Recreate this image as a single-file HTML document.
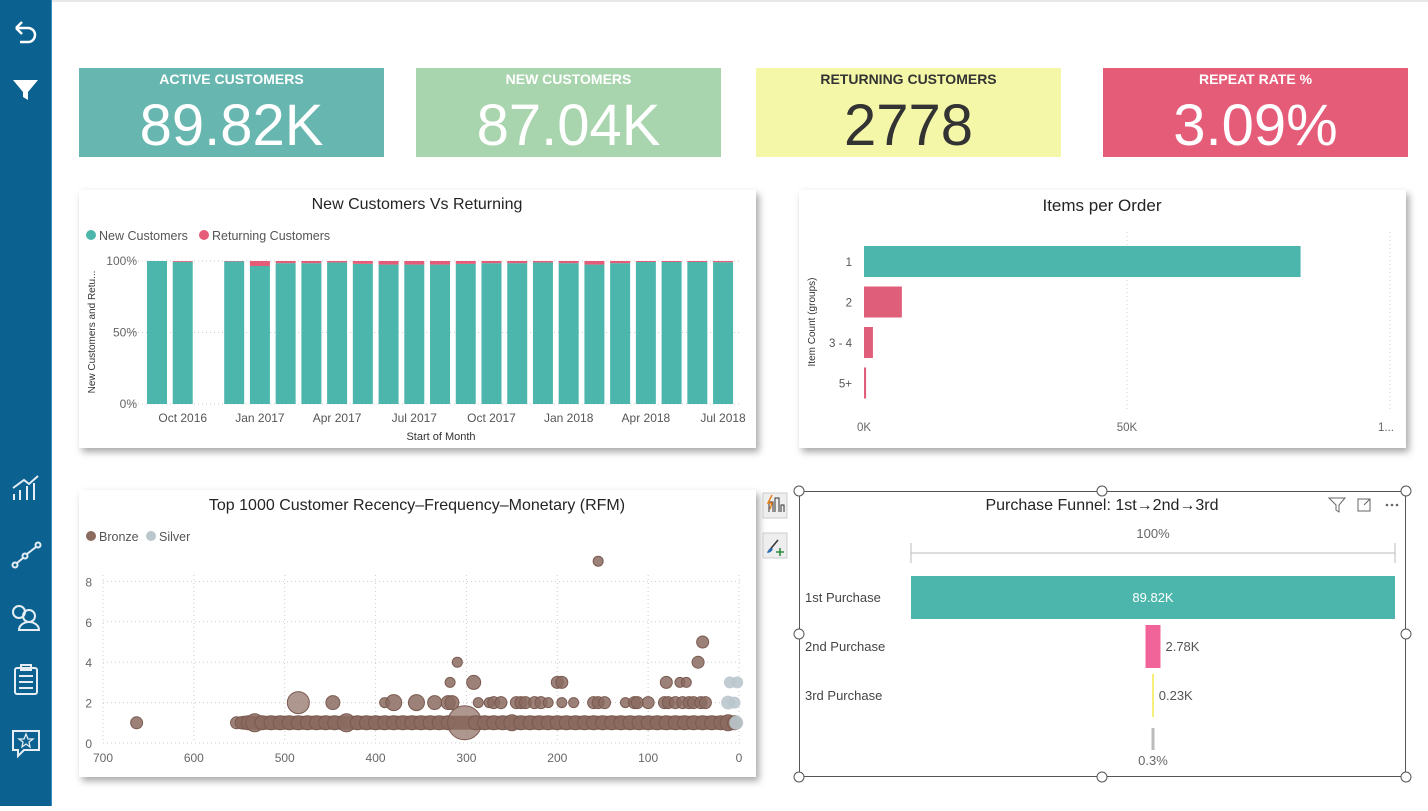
<!DOCTYPE html>
<html><head><meta charset="utf-8">
<style>
body{margin:0;width:1428px;height:806px;overflow:hidden;background:#fff;font-family:"Liberation Sans",sans-serif;position:relative}
.side{position:absolute;left:0;top:0;width:51px;height:806px;background:#0b6190;border-right:1px solid #3d8cc4}
.kpi{position:absolute;top:68px;height:89px;text-align:center}
.kpi .t{font-weight:bold;font-size:14px;margin-top:3px}
.kpi .v{font-size:58px;line-height:60px;margin-top:9px}
.card{position:absolute;background:#fff;box-shadow:3px 4px 7px rgba(0,0,0,0.35)}
svg text{font-family:"Liberation Sans",sans-serif}
</style></head><body>
<div class="side">
<svg width="51" height="806">
 <g fill="none" stroke="#fff" stroke-width="2.5"><path d="M16 28 L22 22 M16 28 L22 34 M16 28 H28 a7 7 0 0 1 0 14 H20"/></g>
 <path d="M13 80 H38 L28 92 V100 L23 97 V92 Z" fill="#fff"/>
 <g fill="none" stroke="#e6eef4" stroke-width="2">
  <path d="M14 500 V494 M20 500 V490 M27 500 V486 M34 500 V483 M13 488 L24 480 L29 484 L38 476"/>
  <circle cx="15" cy="565" r="2.5"/><circle cx="25" cy="556" r="2.5"/><circle cx="38" cy="545" r="2.5"/><path d="M17 563 L23 558 M27 554 L36 547"/>
  <circle cx="19" cy="612" r="6"/><circle cx="29" cy="616" r="6"/><path d="M19 630 a10 8 0 0 1 20 0 Z"/>
  <rect x="15" y="668" width="22" height="26" rx="2"/><rect x="21" y="665" width="10" height="5"/><path d="M19 676 H33 M19 682 H33 M19 688 H33"/>
  <path d="M13 731 H39 V750 H24 L18 756 V750 H13 Z"/><path d="M26 734 L28 739 H33 L29 742 L30 747 L26 744 L22 747 L23 742 L19 739 H24 Z" stroke-width="1.3"/>
 </g>
</svg>
</div>
<div style="position:absolute;left:52px;top:0;width:1376px;height:2px;background:#e8e8e8"></div>

<div class="kpi" style="left:79px;width:305px;background:#67b7b0;color:#fff"><div class="t">ACTIVE CUSTOMERS</div><div class="v">89.82K</div></div>
<div class="kpi" style="left:416px;width:305px;background:#a9d5ae;color:#fff"><div class="t">NEW CUSTOMERS</div><div class="v">87.04K</div></div>
<div class="kpi" style="left:756px;width:305px;background:#f5f7a8;color:#333"><div class="t">RETURNING CUSTOMERS</div><div class="v">2778</div></div>
<div class="kpi" style="left:1103px;width:305px;background:#e55c78;color:#fff"><div class="t">REPEAT RATE %</div><div class="v">3.09%</div></div>

<div class="card" style="left:79px;top:190px;width:677px;height:258px"></div>
<div class="card" style="left:799px;top:190px;width:607px;height:258px"></div>
<div class="card" style="left:79px;top:490px;width:677px;height:287px"></div>
<div style="position:absolute;left:799px;top:491px;width:607px;height:286px;border:1px solid #555;box-sizing:border-box;background:#fff"></div>

<svg id="main" width="1428" height="806" style="position:absolute;left:0;top:0">
 <text x="417" y="209" font-size="16" text-anchor="middle" fill="#252423">New Customers Vs Returning</text>
 <circle cx="91" cy="235" r="5" fill="#4db6ac"/>
 <text x="99" y="240" font-size="12.5" fill="#555">New Customers</text>
 <circle cx="204" cy="235" r="5" fill="#e55c78"/>
 <text x="212" y="240" font-size="12.5" fill="#555">Returning Customers</text>
 <text transform="translate(95,332) rotate(-90)" font-size="10" text-anchor="middle" fill="#333">New Customers and Retu...</text>
 <text x="441" y="440" font-size="11" text-anchor="middle" fill="#333">Start of Month</text>
 <g id="bars"></g>

 <text x="1102" y="211" font-size="17" text-anchor="middle" fill="#252423">Items per Order</text>
 <text transform="translate(815,322) rotate(-90)" font-size="10" text-anchor="middle" fill="#333">Item Count (groups)</text>
 <g id="items"></g>

 <text x="417" y="510" font-size="16" text-anchor="middle" fill="#252423">Top 1000 Customer Recency–Frequency–Monetary (RFM)</text>
 <circle cx="91" cy="536" r="5" fill="#8b6b60"/>
 <text x="99" y="541" font-size="12.5" fill="#555">Bronze</text>
 <circle cx="151" cy="536" r="5" fill="#b9c6cc"/>
 <text x="159" y="541" font-size="12.5" fill="#555">Silver</text>
 <g id="scatter"></g>

 <g>
  <rect x="763" y="493" width="24" height="25" fill="#eee" stroke="#ccc"/><path d="M769 512 V502 H773 V512 M775 512 V498 H779 V512 M781 512 V505 H784 V512" fill="none" stroke="#333"/><path d="M772 495 L768 503 H772 L770 509" fill="none" stroke="#e8821e" stroke-width="1.5"/>
  <rect x="763" y="533" width="24" height="25" fill="#eee" stroke="#ccc"/><path d="M768 552 L778 540" stroke="#333" stroke-width="1.5"/><path d="M767 553 q2 -6 6 -4 q-2 4 -6 4" fill="#2a6ebb"/><path d="M780 548 V556 M776 552 H784" stroke="#2e8b3c" stroke-width="1.6"/>
 </g>
 <text x="1102" y="510" font-size="16" text-anchor="middle" fill="#252423">Purchase Funnel: 1st→2nd→3rd</text>
 <g fill="none" stroke="#666">
  <path d="M1329 498 H1345 L1339 505 V512 L1336 510 V505 Z"/>
  <rect x="1358" y="499" width="12" height="12"/><path d="M1364 505 L1370 499 M1366 499 H1370 V503"/>
  <g fill="#666" stroke="none"><circle cx="1387" cy="505" r="1.3"/><circle cx="1392" cy="505" r="1.3"/><circle cx="1397" cy="505" r="1.3"/></g>
 </g>
 <g id="funnel"></g>
 <g fill="#fff" stroke="#555">
  <circle cx="799" cy="491" r="5"/><circle cx="1102" cy="491" r="5"/><circle cx="1406" cy="491" r="5"/>
  <circle cx="799" cy="634" r="5"/><circle cx="1406" cy="634" r="5"/>
  <circle cx="799" cy="777" r="5"/><circle cx="1102" cy="777" r="5"/><circle cx="1406" cy="777" r="5"/>
 </g>
</svg>
<script>
const NS='http://www.w3.org/2000/svg';
function mk(p,t,a){const e=document.createElementNS(NS,t);for(const k in a)e.setAttribute(k,a[k]);p.appendChild(e);return e;}
// ---- stacked 100% bar chart data ----
const months=['Sep 2016','Oct 2016','Nov 2016','Dec 2016','Jan 2017','Feb 2017','Mar 2017','Apr 2017','May 2017','Jun 2017','Jul 2017','Aug 2017','Sep 2017','Oct 2017','Nov 2017','Dec 2017','Jan 2018','Feb 2018','Mar 2018','Apr 2018','May 2018','Jun 2018','Jul 2018'];
const returningPct=[0,0.6,null,0.3,3.5,1.5,1.5,1,2,2.5,2.5,2.5,2,1.5,1.5,1,1.5,2.5,1.5,0.7,0.7,0.7,0.8];
const barTickLabels=['Oct 2016','Jan 2017','Apr 2017','Jul 2017','Oct 2017','Jan 2018','Apr 2018','Jul 2018'];
const yPctTicks=[0,50,100];
// ---- items per order ----
const itemGroups=['1','2','3 - 4','5+'];
const itemCounts=[83000,7200,1700,400];
const itemTicks=[0,50000,100000];
const itemTickLabels=['0K','50K','1...'];
// ---- RFM scatter ----
const bronzeRecency=[155,310,45,40,318,292,200,195,80,65,58,485,447,390,380,355,335,320,316,287,275,270,262,245,240,235,225,218,210,195,182,160,155,148,125,115,112,100,82,78,70,62,55,50,42,37,663,553,548,540,533,525,515,505,495,485,475,465,455,445,432,420,410,400,390,380,370,360,350,340,330,320,302,290,280,270,260,250,240,230,220,210,200,190,180,170,160,150,140,130,120,110,100,90,80,70,60,50,40,30,20,12,5];
const bronzeFreq=[9,4,4,5,3,3,3,3,3,3,3,2,2,2,2,2,2,2,2,2,2,2,2,2,2,2,2,2,2,2,2,2,2,2,2,2,2,2,2,2,2,2,2,2,2,2,1,1,1,1,1,1,1,1,1,1,1,1,1,1,1,1,1,1,1,1,1,1,1,1,1,1,1,1,1,1,1,1,1,1,1,1,1,1,1,1,1,1,1,1,1,1,1,1,1,1,1,1,1,1,1,1,1];
const bronzeSize=[5,5,6,6,5,7,6,6,6,5,5,11,7,5,8,8,7,7,7,5,5,6,6,6,6,6,6,6,5,5,5,6,6,6,5,6,6,6,6,6,6,6,6,6,6,6,6,6,6,7,9,7,7,7,7,7,7,7,7,7,9,7,7,7,7,7,7,7,7,7,7,7,17,7,7,7,7,8,7,7,7,7,7,7,7,7,7,7,7,7,7,7,7,7,7,7,7,7,7,7,7,8,7];
const silverRecency=[10,2,12,5,3];
const silverFreq=[3,3,2,2,1];
const silverSize=[6,6,7,6,7];
const rfmXTicks=[700,600,500,400,300,200,100,0];
const rfmYTicks=[0,2,4,6,8];
// ---- funnel ----
const funnelStages=['1st Purchase','2nd Purchase','3rd Purchase'];
const funnelValues=[89820,2780,230];
const funnelLabels=['89.82K','2.78K','0.23K'];

// bar chart
(function(){
 const g=document.getElementById('bars');
 const y0=404,y1=261,x0=157,step=25.73,bw=20;
 const yS=v=>y0-(y1-y0)*-v/100;
 yPctTicks.forEach(t=>{
  const l=mk(g,'line',{x1:130,x2:740,y1:yS(t),y2:yS(t),stroke:'#ccc','stroke-dasharray':'1 3'});
  
  const tx=mk(g,'text',{x:137,y:yS(t)+4,'font-size':12,'text-anchor':'end',fill:'#666'});tx.textContent=t+'%';
  
 });
 months.forEach((m,i)=>{
  const r=returningPct[i];if(r===null)return;const cx=x0+i*step;
  const n=mk(g,'rect',{x:cx-bw/2,y:yS(100-r),width:bw,height:yS(0)-yS(100-r),fill:'#4db6ac'});
  
  const p=mk(g,'rect',{x:cx-bw/2,y:yS(100),width:bw,height:yS(100-r)-yS(100),fill:'#e55c78'});
  
 });
 barTickLabels.forEach(l=>{
  const i=months.indexOf(l);const t=mk(g,'text',{x:x0+i*step,y:422,'font-size':12,'text-anchor':'middle',fill:'#555'});t.textContent=l;
  
 });
})();
// items per order
(function(){
 const g=document.getElementById('items');
 const xS=v=>864+v*(263/50000);
 itemTicks.forEach((t,i)=>{
  if(i>0){const l=mk(g,'line',{x1:xS(t),x2:xS(t),y1:232,y2:410,stroke:'#ccc','stroke-dasharray':'1 3'});
   }
  const tx=mk(g,'text',{x:xS(t)+(i==2?-4:0),y:431,'font-size':11.5,'text-anchor':'middle',fill:'#666'});tx.textContent=itemTickLabels[i];
  
 });
 itemGroups.forEach((c,i)=>{
  const y=246+i*40.5;
  const r=mk(g,'rect',{x:xS(0),y:y,width:xS(itemCounts[i])-xS(0),height:31,fill:i==0?'#4db6ac':'#df5f7a'});
  
  const t=mk(g,'text',{x:852,y:y+20,'font-size':11.5,'text-anchor':'end',fill:'#555'});t.textContent=c;
  
 });
})();
// scatter
(function(){
 const g=document.getElementById('scatter');
 const xS=r=>739-r*(636/700),yS=f=>743-f*20.2;
 rfmYTicks.forEach(t=>{
  const l=mk(g,'line',{x1:103,x2:741,y1:yS(t),y2:yS(t),stroke:'#ccc','stroke-dasharray':'1 3'});
  
  const tx=mk(g,'text',{x:92,y:yS(t)+5,'font-size':12,'text-anchor':'end',fill:'#666'});tx.textContent=t;
  
 });
 rfmXTicks.forEach(t=>{
  const l=mk(g,'line',{x1:xS(t),x2:xS(t),y1:575,y2:743,stroke:'#ccc','stroke-dasharray':'1 3'});
  
  const tx=mk(g,'text',{x:xS(t),y:762,'font-size':12,'text-anchor':'middle',fill:'#666'});tx.textContent=t;
  
 });
 const band=mk(g,'rect',{x:xS(553),y:yS(1)-7,width:xS(0)-xS(553),height:14,rx:7,fill:'#8b6b60'});
 
 bronzeRecency.forEach((r,i)=>{
  const c=mk(g,'circle',{cx:xS(r),cy:yS(bronzeFreq[i]),r:bronzeSize[i],fill:'#8b6b60','fill-opacity':bronzeSize[i]>9?0.7:0.85,stroke:'#7a5a50','stroke-width':1});
  
 });
 silverRecency.forEach((r,i)=>{
  const c=mk(g,'circle',{cx:xS(r),cy:yS(silverFreq[i]),r:silverSize[i],fill:'#b9c6cc','fill-opacity':0.9});
  
 });
})();
// funnel
(function(){
 const g=document.getElementById('funnel');
 const cx=1153,full=484,wS=v=>v/funnelValues[0]*full;
 const a=mk(g,'path',{d:'M911 543 V563 M911 553 H1395 M1395 543 V563',stroke:'#bbb',fill:'none'});
 
 const t0=mk(g,'text',{x:cx,y:538,'font-size':13,'text-anchor':'middle',fill:'#666'});t0.textContent='100%';
 
 const cols=['#4db6ac','#f0649a','#f2e94e'];
 funnelStages.forEach((s,i)=>{
  const y=576+i*49,w=Math.max(wS(funnelValues[i]),1.5);
  const r=mk(g,'rect',{x:cx-w/2,y:y,width:w,height:43,fill:cols[i]});
  
  const l=mk(g,'text',{x:805,y:y+26,'font-size':13,fill:'#444'});l.textContent=s;
  
  const v=mk(g,'text',{x:i==0?cx:cx+w/2+5,y:y+26,'font-size':13,'text-anchor':i==0?'middle':'start',fill:i==0?'#fff':'#555'});v.textContent=funnelLabels[i];
  
 });
 const b=mk(g,'rect',{x:cx-1.5,y:728,width:3,height:22,fill:'#bbb'});
 
 const t1=mk(g,'text',{x:cx,y:765,'font-size':13,'text-anchor':'middle',fill:'#666'});t1.textContent='0.3%';
 
})();
</script>
</body></html>
